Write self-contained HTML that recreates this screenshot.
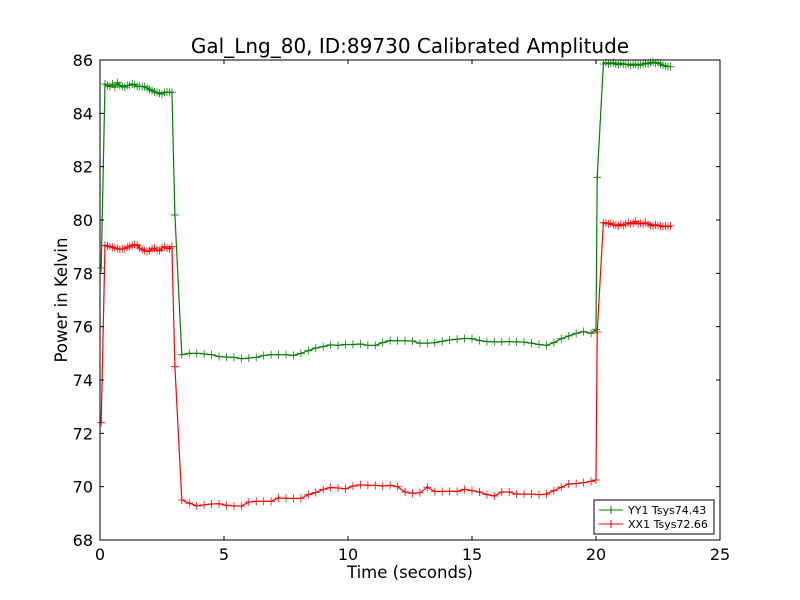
<!DOCTYPE html>
<html><head><meta charset="utf-8"><style>body{margin:0;background:#fff}svg{display:block;font-family:"DejaVu Sans","Liberation Sans",sans-serif}</style></head>
<body>
<svg id="chart" width="800" height="600">
<rect width="800" height="600" fill="#fff"/>
</svg>
<script>
const timesA=[0.05,0.2,0.3,0.4,0.5,0.6,0.7,0.8,0.9,1.0,1.1,1.2,1.3,1.4,1.5,1.6,1.7,1.8,1.9,2.0,2.1,2.2,2.3,2.4,2.5,2.6,2.7,2.8,2.9,3.02];
const greenA=[78.2,85.1,85.05,85.0,85.1,84.98,85.15,85.05,85.0,84.98,85.05,85.05,85.1,85.08,85.0,85.02,85.0,85.0,84.95,84.9,84.85,84.8,84.78,84.75,84.72,84.78,84.8,84.78,84.8,80.19];
const redA=[72.4,79.05,79.02,79.0,78.98,78.95,78.92,78.9,78.92,78.92,78.98,79.0,79.05,79.08,79.05,78.95,78.9,78.85,78.82,78.85,78.92,78.95,78.88,78.85,78.95,79.0,78.95,78.92,79.0,74.5];
const timesB=[3.3,3.6,3.9,4.2,4.5,4.8,5.1,5.4,5.7,6.0,6.3,6.6,6.9,7.2,7.5,7.8,8.1,8.4,8.7,9.0,9.3,9.6,9.9,10.2,10.5,10.8,11.1,11.4,11.7,12.0,12.3,12.6,12.9,13.2,13.5,13.8,14.1,14.4,14.7,15.0,15.3,15.6,15.9,16.2,16.5,16.8,17.1,17.4,17.7,18.0,18.3,18.6,18.9,19.2,19.5,19.8,20.0];
const greenB=[74.95,75.0,75.0,74.98,74.95,74.88,74.86,74.85,74.8,74.82,74.85,74.92,74.95,74.95,74.95,74.92,75.0,75.1,75.2,75.25,75.32,75.3,75.33,75.33,75.35,75.3,75.3,75.4,75.48,75.47,75.47,75.46,75.38,75.38,75.4,75.45,75.5,75.53,75.56,75.55,75.48,75.44,75.43,75.43,75.44,75.43,75.42,75.38,75.33,75.3,75.4,75.55,75.65,75.75,75.82,75.75,75.9];
const redB=[69.5,69.38,69.28,69.32,69.35,69.36,69.3,69.28,69.27,69.42,69.45,69.45,69.45,69.58,69.56,69.56,69.56,69.7,69.78,69.9,69.97,69.95,69.92,70.02,70.07,70.05,70.05,70.02,70.05,70.0,69.8,69.75,69.77,69.98,69.82,69.82,69.83,69.82,69.9,69.85,69.8,69.7,69.65,69.8,69.8,69.72,69.72,69.72,69.7,69.72,69.85,69.98,70.1,70.12,70.15,70.2,70.25];
const timesC=[20.05,20.3,20.4,20.5,20.6,20.7,20.8,20.9,21.0,21.1,21.2,21.3,21.4,21.5,21.6,21.7,21.8,21.9,22.0,22.1,22.2,22.3,22.4,22.5,22.6,22.7,22.8,22.9,23.0];
const greenC=[81.6,85.85,85.9,85.85,85.88,85.9,85.85,85.82,85.88,85.85,85.83,85.85,85.8,85.82,85.85,85.8,85.82,85.85,85.88,85.85,85.9,85.92,85.88,85.9,85.85,85.8,85.78,85.75,85.75];
const redC=[75.8,79.9,79.88,79.85,79.88,79.82,79.8,79.78,79.85,79.8,79.85,79.9,79.85,79.88,79.95,79.85,79.88,79.85,79.9,79.85,79.8,79.78,79.82,79.8,79.78,79.75,79.78,79.75,79.78];
const xTicks=[0,5,10,15,20,25];
const yTicks=[68,70,72,74,76,78,80,82,84,86];
const legendLabels=["YY1 Tsys74.43","XX1 Tsys72.66"];

const L=100,R=720,T=60,B=540;
const xs=v=>L+(v-0)/25*(R-L);
const ys=v=>B-(v-68)/18*(B-T);
const svg=document.getElementById('chart');
const NS='http://www.w3.org/2000/svg';
function mk(tag,attrs,parent){const e=document.createElementNS(NS,tag);for(const k in attrs)e.setAttribute(k,attrs[k]);(parent||svg).appendChild(e);return e;}

const times=timesA.concat(timesB,timesC);
const series=[{vals:greenA.concat(greenB,greenC),color:'#008000',name:'series-yy1'},{vals:redA.concat(redB,redC),color:'#ff0000',name:'series-xx1'}];
series.forEach(s=>{
  const g=mk('g',{});
  
  
  const pts=times.map((t,i)=>xs(t).toFixed(1)+','+ys(s.vals[i]).toFixed(1)).join(' ');
  const pl=mk('polyline',{points:pts,fill:'none',stroke:s.color,'stroke-width':1.2},g);
  
  
  let d='';
  times.forEach((t,i)=>{const x=xs(t),y=ys(s.vals[i]);d+=`M${x-4},${y}H${x+4}M${x},${y-4}V${y+4}`;});
  const m=mk('path',{d:d,stroke:s.color,'stroke-width':0.8,fill:'none'},g);
  
  
});

const frame=mk('rect',{x:L,y:T,width:R-L,height:B-T,fill:'none',stroke:'#000','stroke-width':1});



xTicks.forEach(v=>{const x=xs(v);
  mk('path',{d:`M${x},${B}V${B-4}M${x},${T}V${T+4}`,stroke:'#000'});
  const t=mk('text',{x:x,y:B+20,'text-anchor':'middle','font-size':16},svg);t.textContent=v;
  
  
});
yTicks.forEach(v=>{const y=ys(v);
  mk('path',{d:`M${L},${y}H${L+4}M${R},${y}H${R-4}`,stroke:'#000'});
  const t=mk('text',{x:L-7,y:y+6,'text-anchor':'end','font-size':16},svg);t.textContent=v;
  
  
});
</script>
<script>
(function(){
const svg=document.getElementById('chart');const NS='http://www.w3.org/2000/svg';
function mk(tag,attrs){const e=document.createElementNS(NS,tag);for(const k in attrs)e.setAttribute(k,attrs[k]);svg.appendChild(e);return e;}
let t=mk('text',{x:410,y:53,'text-anchor':'middle','font-size':20});t.textContent='Gal_Lng_80, ID:89730 Calibrated Amplitude';


t=mk('text',{x:410,y:578,'text-anchor':'middle','font-size':16.5});t.textContent='Time (seconds)';


t=mk('text',{x:67,y:300,'text-anchor':'middle','font-size':16.5,transform:'rotate(-90 67 300)'});t.textContent='Power in Kelvin';


const lg=mk('rect',{x:594,y:500,width:120,height:34,fill:'#fff',stroke:'#000'});


const cols=['#008000','#ff0000'];
legendLabels.forEach((lab,i)=>{const y=510+i*14;
  mk('path',{d:`M599,${y}H623M611,${y-4}V${y+4}`,stroke:cols[i],'stroke-width':1});
  const e=mk('text',{x:628,y:y+4,'font-size':11});e.textContent=lab;
  
  
});
})();
</script>
</body></html>
